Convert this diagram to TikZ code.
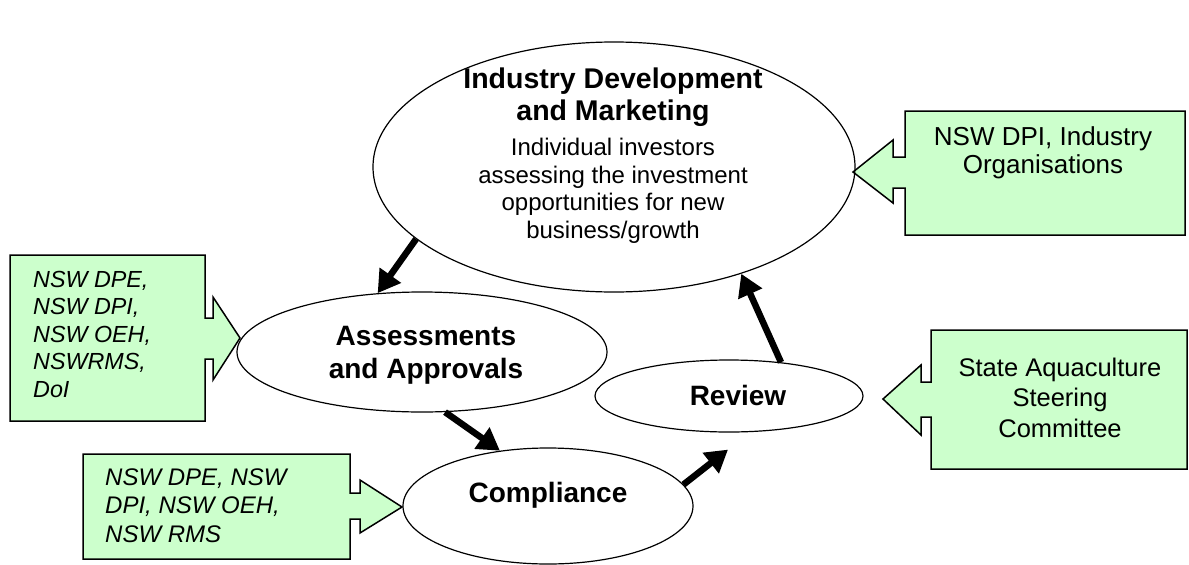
\documentclass[tikz,border=0pt]{standalone}
\usepackage{fontspec}
\setmainfont{Liberation Sans}
\usetikzlibrary{shapes.geometric,arrows.meta,calc}
\definecolor{calloutgreen}{HTML}{CCFFCC}
\begin{document}
\begin{tikzpicture}[x=1pt,y=-1pt,
  oval/.style={draw,ellipse,line width=1.2pt,inner sep=0pt},
  flow/.style={line width=6.5pt,-{Triangle[length=22pt,width=25pt]}},
  callout/.style={draw,line width=1.5pt,fill=calloutgreen,line join=miter},
  title/.style={font=\bfseries\fontsize{28}{32}\selectfont,align=center,anchor=base,inner sep=0pt},
  body/.style={font=\fontsize{24}{27.5}\selectfont,align=center,anchor=base,inner sep=0pt},
  note/.style={font=\itshape\fontsize{23.3}{27.5}\selectfont,align=left,anchor=base west,inner sep=0pt}]
\useasboundingbox (0,0) rectangle (1189,565);

% callouts
\draw[callout] (10,255) -- (205,255) -- (205,318) -- (213,318) -- (213,297) -- (240,338)
  -- (213,380) -- (213,359) -- (205,359) -- (205,421) -- (10,421) -- cycle;
\draw[callout] (83,454) -- (350,454) -- (350,493) -- (360,493) -- (360,480) -- (402,507)
  -- (360,533) -- (360,519) -- (350,519) -- (350,559) -- (83,559) -- cycle;
\draw[callout] (905,111) -- (1185,111) -- (1185,235) -- (905,235) -- (905,188) -- (893,188)
  -- (893,203) -- (853,172) -- (893,140) -- (893,157) -- (905,157) -- cycle;
\draw[callout] (931,330) -- (1187,330) -- (1187,469) -- (931,469) -- (931,417) -- (921,417)
  -- (921,435) -- (883,399) -- (921,365) -- (921,382) -- (931,382) -- cycle;

% ellipses
\node[oval,minimum width=482pt,minimum height=250pt] (big) at (614,167) {};
\node[oval,minimum width=370pt,minimum height=120pt] (assess) at (422,352) {};
\node[oval,minimum width=268pt,minimum height=72pt] (review) at (729,396) {};
\node[oval,minimum width=290pt,minimum height=116pt] (comp) at (548,506) {};

% texts (anchor base = baseline of the last line)
\node[title,font=\bfseries\fontsize{28.5}{32}\selectfont] (bigtitle) at (613,120) {Industry Development\\and Marketing};
\node[body] (bigbody) at (613,238) {Individual investors\\assessing the investment\\opportunities for new\\business/growth};
\node[title,font=\bfseries\fontsize{28}{33}\selectfont] (assesstxt) at (426,378) {Assessments\\and Approvals};
\node[title] (comptxt) at (548,502) {Compliance};
\node[title] (reviewtxt) at (738,405) {Review};

\node[body,font=\fontsize{26}{28}\selectfont] (dpiind) at (1043,173) {NSW DPI, Industry\\Organisations};
\node[body,font=\fontsize{25.5}{30.5}\selectfont] (sasc) at (1060,437) {State Aquaculture\\Steering\\Committee};
\node[note] (left1) at (33,397) {NSW DPE,\\NSW DPI,\\NSW OEH,\\NSWRMS,\\DoI};
\node[note,font=\itshape\fontsize{24}{28.5}\selectfont] (left2) at (105,542) {NSW DPE, NSW\\DPI, NSW OEH,\\NSW RMS};

% flow arrows
\draw[flow] (big.200) -- (assess.127);
\draw[flow] (assess.-69) -- (comp.131);
\draw[flow] (comp.9) -- ($(review.south)+(-1,17)$);
\draw[flow] (review.33) -- (big.-40);
\end{tikzpicture}
\end{document}
